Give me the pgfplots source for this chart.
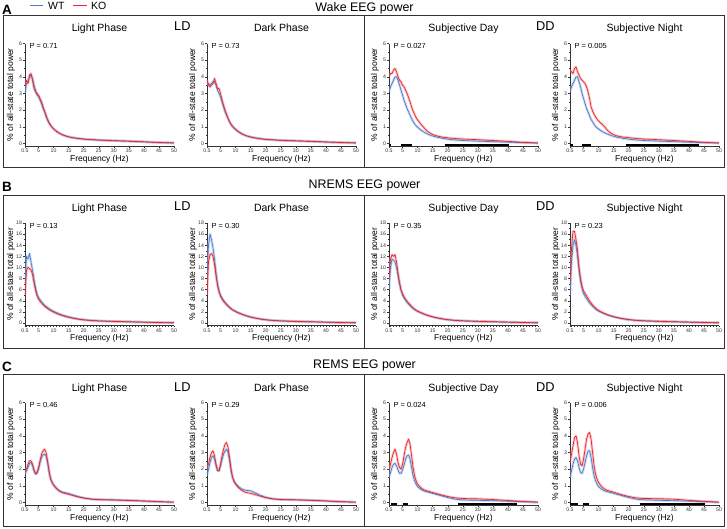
\documentclass[border=0pt]{standalone}
\usepackage{fontspec}
\setmainfont{Liberation Sans}
\usepackage{pgfplots}
\usepackage{pgfplotstable}
\pgfplotsset{compat=1.18}

\definecolor{wtblue}{HTML}{4A7CC9}
\definecolor{kored}{HTML}{E8262E}

% f = frequency (Hz); w1/k1 .. w4/k4 = WT/KO for Light, Dark, Subj. Day, Subj. Night
\pgfplotstableread{
f    w1   k1   w2   k2   w3   k3   w4   k4
0.5  3.0  3.5  3.5  3.8  3.1  4.0  3.1  4.4
1    3.6  3.8  3.6  3.5  3.4  4.2  3.4  4.3
1.5  3.7  3.6  3.5  3.4  3.6  4.2  3.6  4.2
2    4.0  4.1  3.6  3.5  3.8  4.4  3.8  4.5
2.5  4.1  4.2  3.7  3.6  4.0  4.5  4.0  4.6
3    3.9  3.8  3.7  3.9  4.0  4.3  4.0  4.3
3.5  3.5  3.3  3.5  3.6  3.8  4.0  3.7  4.1
4    3.2  3.1  3.2  3.3  3.5  3.8  3.4  3.9
4.5  2.9  3.0  3.0  3.3  3.2  3.7  3.0  3.8
5    2.8  2.9  2.8  3.0  2.9  3.5  2.7  3.7
5.5  2.6  2.7  2.5  2.6  2.6  3.4  2.4  3.6
6    2.4  2.5  2.2  2.3  2.35 3.2  2.1  3.4
6.5  2.1  2.2  1.9  2.0  2.1  3.0  1.9  3.1
7    1.9  1.95 1.7  1.75 1.9  2.75 1.65 2.7
7.5  1.6  1.7  1.5  1.5  1.7  2.5  1.45 2.2
8    1.4  1.45 1.3  1.3  1.5  2.2  1.3  1.95
8.5  1.22 1.25 1.15 1.15 1.32 1.95 1.15 1.75
9    1.08 1.1  1.02 1.02 1.18 1.75 1.02 1.6
9.5  0.97 0.98 0.92 0.93 1.07 1.55 0.94 1.45
10   0.88 0.88 0.84 0.85 0.98 1.42 0.87 1.35
11   0.73 0.72 0.70 0.70 0.82 1.18 0.74 1.18
12   0.61 0.61 0.59 0.59 0.70 0.97 0.64 1.0
13   0.52 0.52 0.50 0.50 0.60 0.78 0.56 0.78
14   0.45 0.45 0.44 0.44 0.51 0.64 0.49 0.63
15   0.40 0.40 0.39 0.39 0.45 0.54 0.43 0.53
16   0.36 0.36 0.35 0.35 0.40 0.47 0.38 0.46
18   0.30 0.31 0.29 0.29 0.32 0.39 0.31 0.39
20   0.26 0.27 0.25 0.25 0.26 0.34 0.26 0.35
22.5 0.23 0.24 0.22 0.22 0.21 0.30 0.21 0.30
25   0.20 0.21 0.19 0.19 0.18 0.27 0.18 0.27
30   0.17 0.17 0.16 0.16 0.14 0.23 0.14 0.23
35   0.14 0.14 0.13 0.13 0.11 0.18 0.11 0.18
40   0.10 0.10 0.09 0.09 0.08 0.13 0.08 0.13
45   0.06 0.06 0.06 0.06 0.05 0.07 0.05 0.07
50   0.04 0.03 0.04 0.03 0.03 0.03 0.03 0.03
}\wake

\pgfplotstableread{
f    w1   k1   w2   k2   w3   k3   w4   k4
0.5  7.0  5.0  8.0  5.0  6.0  8.0  5.0  7.0
1    12.0 9.5  14.0 11.0 10.0 11.5 11.0 13.5
1.5  11.5 10.0 16.0 12.3 11.5 12.3 14.0 16.5
2    12.5 9.8  15.0 12.5 11.3 12.0 15.0 16.5
2.5  11.0 9.5  13.5 12.0 11.0 12.3 14.0 15.0
3    9.5  8.8  11.5 10.5 10.0 11.0 12.0 13.0
3.5  7.8  7.2  9.0  8.5  8.5  9.0  9.5  10.0
4    6.3  5.9  7.0  6.8  7.0  7.3  7.5  8.0
4.5  5.2  4.9  5.8  5.6  5.8  6.0  6.2  6.6
5    4.6  4.3  5.0  4.8  5.0  5.3  5.3  5.8
5.5  4.2  3.9  4.5  4.3  4.5  4.7  4.8  5.3
6    3.8  3.6  4.1  3.9  4.1  4.3  4.4  4.9
6.5  3.5  3.3  3.7  3.6  3.7  3.9  4.0  4.4
7    3.2  3.0  3.4  3.3  3.4  3.6  3.6  4.0
7.5  3.0  2.8  3.1  3.0  3.1  3.3  3.3  3.6
8    2.8  2.6  2.85 2.75 2.85 3.0  3.0  3.25
8.5  2.6  2.4  2.6  2.55 2.6  2.75 2.75 2.95
9    2.4  2.25 2.4  2.35 2.4  2.5  2.5  2.7
9.5  2.25 2.1  2.25 2.2  2.25 2.3  2.3  2.45
10   2.1  1.95 2.1  2.05 2.1  2.15 2.15 2.25
11   1.85 1.7  1.85 1.8  1.85 1.9  1.9  1.95
12   1.62 1.5  1.62 1.58 1.62 1.65 1.65 1.7
13   1.42 1.32 1.42 1.38 1.42 1.45 1.45 1.48
14   1.25 1.16 1.25 1.2  1.25 1.27 1.27 1.3
15   1.1  1.02 1.1  1.05 1.1  1.12 1.12 1.14
16   0.97 0.9  0.97 0.93 0.97 0.98 0.98 1.0
18   0.76 0.7  0.76 0.72 0.76 0.77 0.77 0.78
20   0.6  0.56 0.6  0.57 0.6  0.6  0.6  0.62
22.5 0.47 0.44 0.47 0.45 0.47 0.47 0.47 0.48
25   0.39 0.37 0.39 0.37 0.39 0.39 0.39 0.4
30   0.3  0.28 0.3  0.28 0.3  0.3  0.3  0.3
35   0.23 0.22 0.23 0.22 0.23 0.23 0.23 0.23
40   0.16 0.15 0.16 0.15 0.16 0.16 0.16 0.16
45   0.09 0.08 0.09 0.08 0.09 0.09 0.09 0.09
50   0.05 0.05 0.05 0.05 0.05 0.05 0.05 0.05
}\nrem

\pgfplotstableread{
f    w1   k1   w2   k2   w3   k3   w4   k4
0.5  1.7  1.9  1.6  2.1  1.5  1.9  1.5  2.4
1    1.9  2.0  2.0  2.3  1.8  2.3  1.9  2.9
1.5  2.1  2.3  2.4  2.7  2.1  2.7  2.3  3.4
2    2.35 2.5  2.7  3.0  2.3  3.0  2.6  3.9
2.5  2.4  2.5  2.8  3.1  2.35 3.2  2.7  4.0
3    2.2  2.3  2.6  2.8  2.2  2.9  2.5  3.6
3.5  1.9  1.95 2.2  2.3  1.95 2.4  2.1  2.8
4    1.7  1.75 1.9  1.95 1.75 2.1  1.8  2.3
4.5  1.75 1.8  1.9  1.9  1.75 2.0  1.75 2.2
5    2.0  2.1  2.2  2.3  1.95 2.3  2.0  2.6
5.5  2.4  2.5  2.6  2.8  2.25 2.8  2.4  3.2
6    2.7  2.9  2.9  3.2  2.6  3.3  2.8  3.8
6.5  2.85 3.1  3.1  3.5  2.8  3.6  3.1  4.1
7    2.9  3.2  3.2  3.6  2.85 3.8  3.1  4.2
7.5  2.8  3.0  3.0  3.3  2.6  3.5  2.7  3.8
8    2.4  2.5  2.5  2.7  2.1  2.8  2.1  3.0
8.5  1.8  1.9  1.9  2.0  1.6  2.1  1.6  2.2
9    1.4  1.45 1.5  1.5  1.3  1.6  1.3  1.7
9.5  1.2  1.2  1.3  1.25 1.1  1.3  1.1  1.4
10   1.05 1.05 1.15 1.1  0.95 1.1  0.95 1.2
11   0.85 0.82 0.95 0.88 0.8  0.9  0.8  0.95
12   0.7  0.67 0.82 0.73 0.7  0.77 0.7  0.8
13   0.62 0.59 0.75 0.63 0.65 0.7  0.64 0.72
14   0.58 0.54 0.72 0.58 0.6  0.65 0.6  0.67
15   0.54 0.49 0.7  0.55 0.55 0.6  0.55 0.62
16   0.48 0.44 0.62 0.5  0.5  0.55 0.5  0.56
18   0.37 0.34 0.45 0.39 0.4  0.45 0.4  0.45
20   0.28 0.26 0.31 0.29 0.3  0.36 0.3  0.36
22.5 0.21 0.2  0.22 0.21 0.2  0.28 0.2  0.28
25   0.18 0.17 0.18 0.18 0.15 0.24 0.16 0.24
30   0.16 0.15 0.16 0.16 0.13 0.22 0.13 0.23
35   0.13 0.12 0.14 0.13 0.11 0.18 0.11 0.2
40   0.09 0.09 0.1  0.09 0.08 0.12 0.08 0.13
45   0.05 0.05 0.05 0.05 0.05 0.06 0.05 0.07
50   0.02 0.02 0.02 0.02 0.02 0.02 0.02 0.02
}\rem

\tikzset{
  wtband/.style={color=wtblue!60, line width=2.6pt, opacity=0.45, line join=round},
  koband/.style={color=kored!55, line width=2.6pt, opacity=0.45, line join=round},
}

\pgfplotsset{
  eeg/.style={
    scale only axis, width=149pt, height=102.5pt,
    anchor=south west,
    xmin=0.5, xmax=50,
    axis lines*=left,
    axis line style={black!80, line width=0.5pt},
    xtick={0.5,5,10,15,20,25,30,35,40,45,50},
    minor xtick={1,2,...,49},
    tick align=outside,
    major tick length=1.8pt, minor tick length=1pt,
    every tick/.style={black!80, line width=0.4pt},
    tick label style={font=\fontsize{5.2}{6}\selectfont, text=black!80, inner sep=1pt},
    /pgf/number format/assume math mode=true,
    xlabel={Frequency (Hz)},
    ylabel={\% of all-state total power},
    every axis x label/.style={at={(axis description cs:0.5,0)}, anchor=base, yshift=-15.3pt, font=\fontsize{8.5}{10}\selectfont},
    every axis y label/.style={at={(axis description cs:-0.0805,0.5)}, anchor=base, rotate=90, font=\fontsize{8.5}{10}\selectfont},
    title style={font=\fontsize{10.5}{12}\selectfont, at={(axis description cs:0.5,1)}, anchor=base, yshift=5.5pt},
  },
  six/.style={ymin=-0.15, ymax=6, ytick={0,...,6}, minor y tick num=1},
  eighteen/.style={ymin=-0.45, ymax=18, ytick={0,2,...,18}, minor y tick num=1},
}

\newcommand{\pair}[3]{%
  \addplot[wtband, forget plot] table[x=f, y=#2] {#1};
  \addplot[koband, forget plot] table[x=f, y=#3] {#1};
  \addplot[color=wtblue, line width=0.7pt, line join=round] table[x=f, y=#2] {#1};
  \addplot[color=kored, line width=0.7pt, line join=round] table[x=f, y=#3] {#1};
}
\newcommand{\pval}[1]{\node[anchor=north west, inner sep=0pt, font=\fontsize{7.5}{8}\selectfont] at (rel axis cs:0.029,1) {#1};}
\newcommand{\sig}[3]{\addplot[black, line width=2.2pt, forget plot] coordinates {(#1,#3) (#2,#3)};}

\begin{document}
\begin{tikzpicture}
\useasboundingbox (0pt,0pt) rectangle (727pt,-528pt);

% ---------- A: Wake ----------
\begin{axis}[eeg, six, at={(25pt,-146pt)}, title={Light Phase}]
\pair{\wake}{w1}{k1}
\pval{P = 0.71}
\end{axis}
\begin{axis}[eeg, six, at={(207pt,-146pt)}, title={Dark Phase}]
\pair{\wake}{w2}{k2}
\pval{P = 0.73}
\end{axis}
\begin{axis}[eeg, six, at={(389pt,-146pt)}, title={Subjective Day}]
\pair{\wake}{w3}{k3}
\sig{0.5}{1.3}{-0.07}\sig{4.4}{8.1}{-0.07}\sig{19}{40.2}{-0.07}
\pval{P = 0.027}
\end{axis}
\begin{axis}[eeg, six, at={(570pt,-146pt)}, title={Subjective Night}]
\pair{\wake}{w4}{k4}
\sig{0.5}{1.4}{-0.07}\sig{4.4}{7.4}{-0.07}\sig{19.1}{43.3}{-0.07}
\pval{P = 0.005}
\end{axis}

% ---------- B: NREMS ----------
\begin{axis}[eeg, eighteen, at={(25pt,-325.5pt)}, title={Light Phase}]
\pair{\nrem}{w1}{k1}
\pval{P = 0.13}
\end{axis}
\begin{axis}[eeg, eighteen, at={(207pt,-325.5pt)}, title={Dark Phase}]
\pair{\nrem}{w2}{k2}
\pval{P = 0.30}
\end{axis}
\begin{axis}[eeg, eighteen, at={(389pt,-325.5pt)}, title={Subjective Day}]
\pair{\nrem}{w3}{k3}
\pval{P = 0.35}
\end{axis}
\begin{axis}[eeg, eighteen, at={(570pt,-325.5pt)}, title={Subjective Night}]
\pair{\nrem}{w4}{k4}
\pval{P = 0.23}
\end{axis}

% ---------- C: REMS ----------
\begin{axis}[eeg, six, at={(25pt,-505pt)}, title={Light Phase}]
\pair{\rem}{w1}{k1}
\pval{P = 0.46}
\end{axis}
\begin{axis}[eeg, six, at={(207pt,-505pt)}, title={Dark Phase}]
\pair{\rem}{w2}{k2}
\pval{P = 0.29}
\end{axis}
\begin{axis}[eeg, six, at={(389pt,-505pt)}, title={Subjective Day}]
\pair{\rem}{w3}{k3}
\sig{1.3}{3.2}{-0.07}\sig{5.1}{6.7}{-0.07}\sig{23.5}{43.1}{-0.07}
\pval{P = 0.024}
\end{axis}
\begin{axis}[eeg, six, at={(570pt,-505pt)}, title={Subjective Night}]
\pair{\rem}{w4}{k4}
\sig{0.5}{3.3}{-0.07}\sig{4.7}{6.8}{-0.07}\sig{23.6}{45.4}{-0.07}
\pval{P = 0.006}
\end{axis}

% ---------- frames, headings, legend ----------
\begin{scope}[x=1pt, y=1pt]
\foreach \t/\b in {15/167, 195/348, 374/526.5} {
  \draw[black!80, line width=0.7pt] (3,-\t) rectangle (724,-\b);
  \draw[black!80, line width=0.7pt] (364,-\t) -- (364,-\b);
}
\foreach \lab/\base/\head in {A/14.7/{Wake EEG power}, B/191.7/{NREMS EEG power}, C/371/{REMS EEG power}} {
  \node[anchor=base west, inner sep=0pt, font=\bfseries\fontsize{13.5}{14}\selectfont] at (2,-\base) {\lab};
  \node[anchor=base, inner sep=0pt, font=\fontsize{12.4}{14}\selectfont] at (364.5,-\base+3) {\head};
}
\foreach \base in {30.7, 210.7, 391.7} {
  \node[anchor=base, inner sep=0pt, font=\fontsize{12.8}{14}\selectfont] at (182.4,-\base) {LD};
  \node[anchor=base, inner sep=0pt, font=\fontsize{12.8}{14}\selectfont] at (545.3,-\base) {DD};
}
\fill[wtblue] (30,-4.8) rectangle (43,-6.2);
\node[anchor=base west, inner sep=0pt, font=\fontsize{10.5}{12}\selectfont] at (48,-9.2) {WT};
\fill[kored] (73,-4.8) rectangle (87,-6.2);
\node[anchor=base west, inner sep=0pt, font=\fontsize{10.5}{12}\selectfont] at (91,-9.2) {KO};
\end{scope}
\end{tikzpicture}
\end{document}
